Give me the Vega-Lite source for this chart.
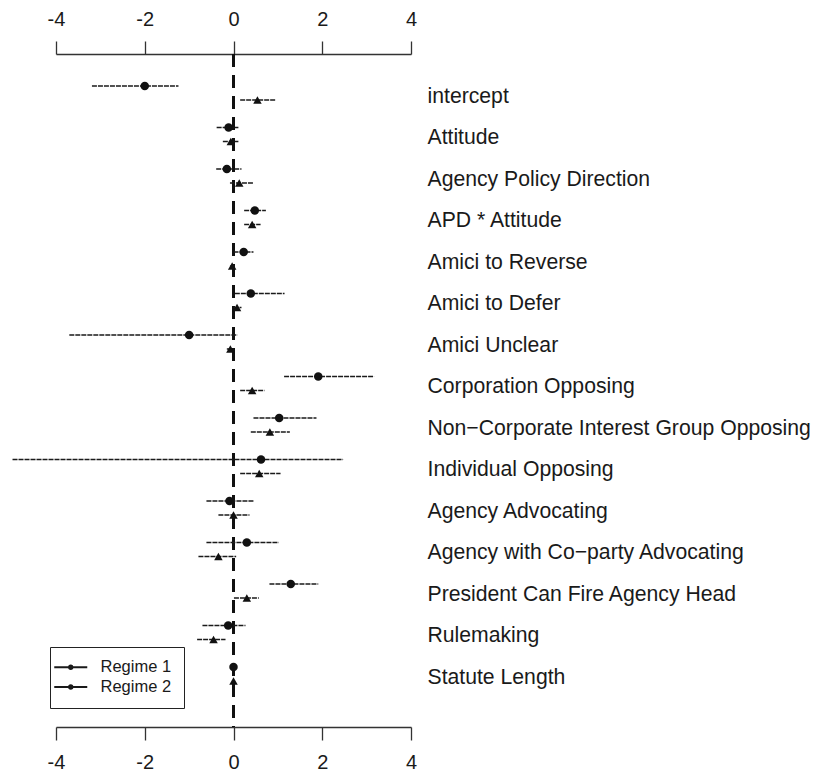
{
  "$schema": "https://vega.github.io/schema/vega-lite/v6.json",
  "autosize": "none",
  "padding": {"left": 56, "top": 54, "right": 402, "bottom": 50},
  "width": 355,
  "height": 673,
  "background": "white",
  "config": {
    "view": {"stroke": null},
    "font": "Liberation Sans"
  },
  "data": {
    "values": [
      {"variable": "intercept", "regime": "Regime 1", "est": -2.0, "lo": -3.19, "hi": -1.24},
      {"variable": "intercept", "regime": "Regime 2", "est": 0.54, "lo": 0.15, "hi": 0.96},
      {"variable": "Attitude", "regime": "Regime 1", "est": -0.11, "lo": -0.38, "hi": 0.11},
      {"variable": "Attitude", "regime": "Regime 2", "est": -0.06, "lo": -0.24, "hi": 0.11},
      {"variable": "Agency Policy Direction", "regime": "Regime 1", "est": -0.15, "lo": -0.39, "hi": 0.18},
      {"variable": "Agency Policy Direction", "regime": "Regime 2", "est": 0.13, "lo": -0.08, "hi": 0.45},
      {"variable": "APD * Attitude", "regime": "Regime 1", "est": 0.48, "lo": 0.24, "hi": 0.73},
      {"variable": "APD * Attitude", "regime": "Regime 2", "est": 0.42, "lo": 0.24, "hi": 0.61},
      {"variable": "Amici to Reverse", "regime": "Regime 1", "est": 0.23, "lo": 0.0, "hi": 0.45},
      {"variable": "Amici to Reverse", "regime": "Regime 2", "est": -0.03, "lo": -0.08, "hi": 0.03},
      {"variable": "Amici to Defer", "regime": "Regime 1", "est": 0.39, "lo": 0.03, "hi": 1.15},
      {"variable": "Amici to Defer", "regime": "Regime 2", "est": 0.08, "lo": 0.0, "hi": 0.18},
      {"variable": "Amici Unclear", "regime": "Regime 1", "est": -1.0, "lo": -3.7, "hi": 0.09},
      {"variable": "Amici Unclear", "regime": "Regime 2", "est": -0.07, "lo": -0.15, "hi": 0.02},
      {"variable": "Corporation Opposing", "regime": "Regime 1", "est": 1.91, "lo": 1.14, "hi": 3.17},
      {"variable": "Corporation Opposing", "regime": "Regime 2", "est": 0.42, "lo": 0.15, "hi": 0.7},
      {"variable": "Non−Corporate Interest Group Opposing", "regime": "Regime 1", "est": 1.03, "lo": 0.45, "hi": 1.87},
      {"variable": "Non−Corporate Interest Group Opposing", "regime": "Regime 2", "est": 0.82, "lo": 0.39, "hi": 1.27},
      {"variable": "Individual Opposing", "regime": "Regime 1", "est": 0.62, "lo": -4.98, "hi": 2.47},
      {"variable": "Individual Opposing", "regime": "Regime 2", "est": 0.58, "lo": 0.15, "hi": 1.06},
      {"variable": "Agency Advocating", "regime": "Regime 1", "est": -0.09, "lo": -0.61, "hi": 0.47},
      {"variable": "Agency Advocating", "regime": "Regime 2", "est": 0.0, "lo": -0.34, "hi": 0.36},
      {"variable": "Agency with Co−party Advocating", "regime": "Regime 1", "est": 0.3, "lo": -0.61, "hi": 1.02},
      {"variable": "Agency with Co−party Advocating", "regime": "Regime 2", "est": -0.34, "lo": -0.79, "hi": 0.06},
      {"variable": "President Can Fire Agency Head", "regime": "Regime 1", "est": 1.29, "lo": 0.81, "hi": 1.91},
      {"variable": "President Can Fire Agency Head", "regime": "Regime 2", "est": 0.3, "lo": 0.01, "hi": 0.57},
      {"variable": "Rulemaking", "regime": "Regime 1", "est": -0.12, "lo": -0.7, "hi": 0.27},
      {"variable": "Rulemaking", "regime": "Regime 2", "est": -0.45, "lo": -0.82, "hi": -0.18},
      {"variable": "Statute Length", "regime": "Regime 1", "est": 0.0, "lo": -0.02, "hi": 0.02},
      {"variable": "Statute Length", "regime": "Regime 2", "est": 0.0, "lo": -0.02, "hi": 0.02}
    ]
  },
  "layer": [
    {
      "mark": {"type": "rule", "strokeDash": [13, 8], "strokeWidth": 2.5, "color": "#111"},
      "encoding": {
        "x": {"datum": 0, "type": "quantitative", "axis": null}
      }
    },
    {
      "mark": {"type": "rule", "strokeWidth": 1.3, "strokeDash": [5, 1]},
      "encoding": {
        "y": {
          "field": "variable",
          "type": "nominal",
          "sort": ["intercept", "Attitude", "Agency Policy Direction", "APD * Attitude", "Amici to Reverse", "Amici to Defer", "Amici Unclear", "Corporation Opposing", "Non−Corporate Interest Group Opposing", "Individual Opposing", "Agency Advocating", "Agency with Co−party Advocating", "President Can Fire Agency Head", "Rulemaking", "Statute Length"],
          "scale": {"paddingInner": 0, "paddingOuter": 0.6084, "align": 0.361},
          "axis": {
            "orient": "right",
            "title": null,
            "domain": false,
            "ticks": false,
            "labelPadding": 16,
            "labelAlign": "left",
            "labelFontSize": 21.2,
            "labelColor": "#1a1a1a",
            "labelOffset": 4,
            "labelLimit": 0
          }
        },
        "yOffset": {
          "field": "regime",
          "type": "nominal",
          "scale": {"paddingInner": 0, "paddingOuter": 0.482}
        },
        "x": {
          "field": "lo",
          "type": "quantitative",
          "scale": {"domain": [-4, 4], "nice": false, "zero": false},
          "axis": {
            "orient": "bottom",
            "title": null,
            "values": [-4, -2, 0, 2, 4],
            "grid": false,
            "domainColor": "#333",
            "domainWidth": 1.3,
            "tickColor": "#333",
            "tickWidth": 1.3,
            "tickSize": 13,
            "labelFontSize": 20,
            "labelColor": "#1a1a1a",
            "labelPadding": 12,
            "labelFlush": false,
            "labelExpr": "datum.value < 0 ? '-' + abs(datum.value) : '' + datum.value"
          }
        },
        "x2": {"field": "hi"},
        "color": {
          "field": "regime",
          "type": "nominal",
          "scale": {"range": ["#1a1a1a", "#1a1a1a"]},
          "legend": {
            "title": null,
            "orient": "none",
            "legendX": -6,
            "legendY": 593,
            "strokeColor": "#222",
            "fillColor": "white",
            "padding": 12,
            "symbolType": "M-3,0H3M-0.3,0a0.3,0.3 0 1,0 0.6,0a0.3,0.3 0 1,0 -0.6,0",
            "symbolSize": 121,
            "symbolOffset": 0.5,
            "labelOffset": 21.5,
            "rowPadding": 2.75,
            "labelFontSize": 16.5,
            "labelColor": "#1a1a1a",
            "symbolFillColor": "#111",
            "symbolStrokeColor": "#111",
            "symbolStrokeWidth": 2,
            "symbolDash": []
          }
        }
      }
    },
    {
      "mark": {"type": "point", "filled": true, "opacity": 1, "color": "#111"},
      "encoding": {
        "y": {
          "field": "variable",
          "type": "nominal",
          "sort": ["intercept", "Attitude", "Agency Policy Direction", "APD * Attitude", "Amici to Reverse", "Amici to Defer", "Amici Unclear", "Corporation Opposing", "Non−Corporate Interest Group Opposing", "Individual Opposing", "Agency Advocating", "Agency with Co−party Advocating", "President Can Fire Agency Head", "Rulemaking", "Statute Length"]
        },
        "yOffset": {"field": "regime", "type": "nominal"},
        "x": {
          "field": "est",
          "type": "quantitative",
          "axis": {
            "orient": "top",
            "title": null,
            "values": [-4, -2, 0, 2, 4],
            "grid": false,
            "domainColor": "#333",
            "domainWidth": 1.3,
            "tickColor": "#333",
            "tickWidth": 1.3,
            "tickSize": 13,
            "labelFontSize": 20,
            "labelColor": "#1a1a1a",
            "labelPadding": 12,
            "labelFlush": false,
            "labelExpr": "datum.value < 0 ? '-' + abs(datum.value) : '' + datum.value"
          }
        },
        "shape": {
          "field": "regime",
          "type": "nominal",
          "scale": {"domain": ["Regime 1", "Regime 2"], "range": ["circle", "triangle-up"]},
          "legend": null
        },
        "size": {"value": 72}
      }
    }
  ]
}
